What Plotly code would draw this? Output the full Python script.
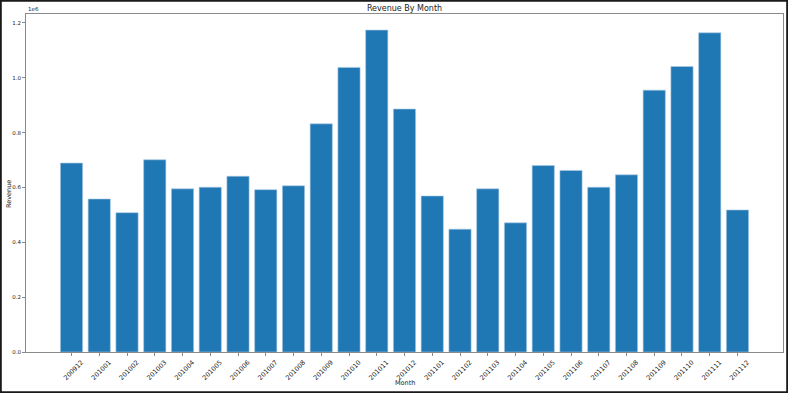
import plotly.graph_objects as go

months = ["200912", "201001", "201002", "201003", "201004", "201005", "201006",
          "201007", "201008", "201009", "201010", "201011", "201012", "201101",
          "201102", "201103", "201104", "201105", "201106", "201107", "201108",
          "201109", "201110", "201111", "201112"]
revenue = [0.689e6, 0.558e6, 0.508e6, 0.701e6, 0.595e6, 0.601e6, 0.641e6,
           0.592e6, 0.606e6, 0.832e6, 1.038e6, 1.174e6, 0.886e6, 0.569e6,
           0.448e6, 0.595e6, 0.471e6, 0.680e6, 0.662e6, 0.601e6, 0.646e6,
           0.955e6, 1.041e6, 1.164e6, 0.518e6]
ytick_vals = [0, 0.2e6, 0.4e6, 0.6e6, 0.8e6, 1.0e6, 1.2e6]
ytick_text = ["0.0", "0.2", "0.4", "0.6", "0.8", "1.0", "1.2"]

W, H = 788, 393
ML, MR, MT, MB = 26, 5, 14, 41
PW, PH = W - ML - MR, H - MT - MB

FONT = "DejaVu Sans"
AX = "#8a8a8a"
TXT = "#222"

fig = go.Figure(go.Bar(
    x=months, y=revenue,
    marker=dict(color="#1f77b4", line=dict(color="#a9c9e4", width=0.6)),
    width=0.8,
))

n = len(months)
pad = 0.05 * (n - 1 + 0.8)
fig.update_layout(
    width=W, height=H,
    margin=dict(l=ML, r=MR, t=MT, b=MB, pad=0, autoexpand=False),
    paper_bgcolor="white", plot_bgcolor="white",
    showlegend=False,
    font=dict(family=FONT, color=TXT),
    title=dict(text="Revenue By Month", x=(ML + PW / 2) / W, xanchor="center",
               y=1 - 8.5 / H, yanchor="middle", font=dict(size=8, color=TXT)),
    xaxis=dict(
        type="category", range=[-0.4 - pad, n - 1 + 0.4 + pad],
        automargin=False,
        showgrid=False, zeroline=False,
        showline=True, linecolor=AX, linewidth=1, mirror=True,
        ticks="outside", ticklen=3, tickcolor=AX, tickwidth=1,
        tickangle=-45, tickfont=dict(size=6.5, family=FONT, color=TXT),
        ticklabelshift=10, ticklabelstandoff=0,
    ),
    yaxis=dict(
        range=[0, 1.2327e6],
        automargin=False,
        tickvals=ytick_vals, ticktext=ytick_text,
        showgrid=False, zeroline=False,
        showline=True, linecolor=AX, linewidth=1, mirror=True,
        ticks="outside", ticklen=3, tickcolor=AX, tickwidth=1,
        tickfont=dict(size=5.5, family=FONT, color=TXT),
    ),
)

# axis titles
fig.add_annotation(text="Month", xref="paper", yref="paper", x=0.5, y=-(383 - MT - PH) / PH,
                   xanchor="center", yanchor="middle", showarrow=False,
                   font=dict(size=6.5, family=FONT, color=TXT))
fig.add_annotation(text="Revenue", xref="paper", yref="paper", x=-(ML - 9) / PW, y=(352 - 194) / PH,
                   xanchor="center", yanchor="middle", showarrow=False, textangle=-90,
                   font=dict(size=6.5, family=FONT, color=TXT))

fig.add_annotation(text="1e6", xref="paper", yref="paper", x=0, y=1,
                   xanchor="left", yanchor="bottom", showarrow=False,
                   font=dict(size=5.5, family=FONT, color=TXT), yshift=0)

# outer frame of the image
fig.add_shape(type="rect", xref="paper", yref="paper",
              x0=(0.9 - ML) / PW, x1=(W - 0.9 - ML) / PW,
              y0=-(H - 0.9 - MT - PH) / PH, y1=1 + (MT - 0.9) / PH,
              line=dict(color="#1a1a1a", width=1.8), layer="above")

fig.write_html("out.html", config={"displayModeBar": False},
               post_script="document.body.style.margin='0';document.body.style.overflow='hidden';")
